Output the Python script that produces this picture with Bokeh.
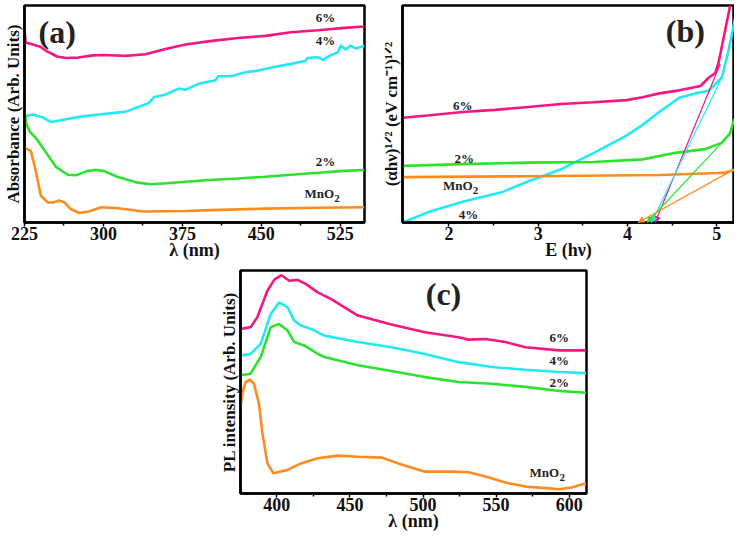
from bokeh.plotting import figure
from bokeh.models import Label, FixedTicker, Range1d, Arrow, NormalHead, Spacer
from bokeh.layouts import row, column
from bokeh.embed import file_html
from bokeh.resources import INLINE

FONT = "'Liberation Serif', serif"
PINK = "#F5167F"
CYAN = "#22E9F4"
GREEN = "#2CE22C"
ORANGE = "#FF8B1E"

# ---------------- (a) UV-Vis absorbance ----------------
a_ticks = [225, 300, 375, 450, 525]
a_minor = [262.5, 337.5, 412.5, 487.5]
a_x6 = [225, 226, 233, 240, 246, 256, 264, 276, 290, 300, 321, 340, 359, 378, 403, 428, 454, 478, 504, 529, 548]
a_y6 = [0.90, 0.83, 0.82, 0.81, 0.79, 0.765, 0.758, 0.76, 0.77, 0.772, 0.768, 0.775, 0.80, 0.82, 0.837, 0.85, 0.86, 0.877, 0.886, 0.897, 0.903]
a_x4 = [225.7, 232.6, 242, 250.5, 264.7, 279.8, 295.9, 321.4, 333.6, 343.1, 347.8, 359.1, 371.4, 378, 390.3, 406.4, 409.2, 421.5, 434.7, 447, 463.1, 478.2, 491.4, 494.2, 503.7, 508.4, 516, 522.6, 525.4, 530.1, 534.9, 539.6, 548]
a_y4 = [0.490, 0.498, 0.485, 0.463, 0.476, 0.489, 0.498, 0.511, 0.533, 0.551, 0.577, 0.590, 0.617, 0.612, 0.639, 0.656, 0.674, 0.674, 0.692, 0.700, 0.718, 0.731, 0.744, 0.758, 0.762, 0.749, 0.771, 0.784, 0.815, 0.797, 0.815, 0.802, 0.815]
a_x2 = [225, 226.5, 230, 236, 245.5, 255, 266, 274, 285, 293, 300, 313, 331, 345, 360, 400, 428, 454, 478, 504, 529, 548]
a_y2 = [0.520, 0.458, 0.419, 0.388, 0.322, 0.256, 0.220, 0.218, 0.238, 0.242, 0.238, 0.211, 0.185, 0.176, 0.181, 0.196, 0.203, 0.211, 0.220, 0.229, 0.238, 0.242]
a_x0 = [225, 231, 235.5, 240.5, 247, 252, 258, 263, 269, 277, 286, 298, 314, 338, 378, 403, 454, 504, 548]
a_y0 = [0.344, 0.330, 0.242, 0.123, 0.0925, 0.0925, 0.101, 0.0925, 0.062, 0.044, 0.051, 0.070, 0.066, 0.051, 0.053, 0.057, 0.064, 0.068, 0.070]

# ---------------- (b) Tauc plot ----------------
b_ticks = [2, 3, 4, 5]
b_minor = [2.5, 3.5, 4.5]
b_x6 = [1.485, 1.787, 2.154, 2.518, 2.89, 3.257, 3.62, 3.99, 4.17, 4.36, 4.58, 4.82, 4.91, 4.985, 5.02, 5.15, 5.17]
b_y6 = [0.483, 0.494, 0.509, 0.519, 0.532, 0.546, 0.554, 0.564, 0.577, 0.595, 0.609, 0.629, 0.667, 0.689, 0.734, 0.997, 1.05]
b_x4 = [1.485, 1.787, 2.154, 2.60, 2.89, 3.05, 3.257, 3.42, 3.62, 3.99, 4.17, 4.36, 4.58, 4.76, 4.91, 5.057, 5.13, 5.19, 5.21]
b_y4 = [0.0, 0.051, 0.096, 0.141, 0.190, 0.213, 0.245, 0.279, 0.32, 0.40, 0.45, 0.51, 0.575, 0.595, 0.607, 0.667, 0.787, 0.907, 0.95]
b_x2 = [1.485, 2.154, 2.89, 3.62, 4.17, 4.54, 4.87, 5.057, 5.15, 5.197]
b_y2 = [0.261, 0.269, 0.276, 0.279, 0.291, 0.321, 0.338, 0.367, 0.411, 0.477]
b_x0 = [1.485, 2.89, 4.36, 5.02, 5.10, 5.20]
b_y0 = [0.209, 0.213, 0.219, 0.228, 0.230, 0.243]
# linear extrapolations to the band gap (start on curve -> intercept on E axis)
tan_x0 = [5.04, 5.057, 5.057, 5.17]
tan_y0 = [0.73, 0.667, 0.367, 0.239]
tan_x1 = [4.31, 4.27, 4.22, 4.12]
tan_y1 = [0.0, 0.0, 0.0, 0.0]
tan_col = [PINK, CYAN, GREEN, ORANGE]

# ---------------- (c) PL spectra ----------------
c_ticks = [400, 450, 500, 550, 600]
c_minor = [425, 475, 525, 575]
c_x6 = [375.2, 382.1, 386.7, 393.6, 398.5, 403.2, 408.5, 414.2, 420, 428, 437.2, 455.5, 478.4, 501.3, 524.3, 531.2, 542.6, 556.4, 570.1, 593.1, 611.4]
c_y6 = [0.738, 0.746, 0.790, 0.909, 0.96, 0.979, 0.954, 0.958, 0.939, 0.902, 0.872, 0.798, 0.758, 0.723, 0.701, 0.690, 0.693, 0.679, 0.656, 0.642, 0.642]
c_x4 = [375.2, 382.1, 389, 395.9, 401.6, 407.4, 411.9, 416.5, 423.4, 432.5, 455.5, 478.4, 501.3, 524.3, 547.2, 570.1, 593.1, 611.4]
c_y4 = [0.619, 0.626, 0.671, 0.805, 0.857, 0.835, 0.775, 0.753, 0.738, 0.708, 0.679, 0.656, 0.626, 0.589, 0.567, 0.555, 0.545, 0.540]
c_x2 = [375.2, 382.1, 389, 395.9, 401.6, 407.4, 411.9, 418.8, 428, 432.5, 455.5, 478.4, 501.3, 524.3, 547.2, 570.1, 593.1, 611.4]
c_y2 = [0.530, 0.537, 0.612, 0.746, 0.760, 0.731, 0.679, 0.664, 0.626, 0.612, 0.575, 0.549, 0.522, 0.500, 0.492, 0.478, 0.460, 0.452]
c_x0 = [375.2, 376.4, 378.7, 381.6, 384.4, 387.8, 390.2, 393.6, 397.7, 407.4, 416.5, 428, 441.8, 455.5, 471.6, 483, 501.3, 519.7, 531.2, 542.6, 556.4, 570.1, 583.9, 593.1, 602.3, 611.4]
c_y0 = [0.388, 0.448, 0.5, 0.510, 0.492, 0.403, 0.269, 0.135, 0.091, 0.106, 0.135, 0.158, 0.170, 0.165, 0.161, 0.135, 0.098, 0.098, 0.095, 0.076, 0.049, 0.031, 0.024, 0.019, 0.028, 0.046]


def make_fig(width, height, xr, yr, ticks, minor, xlabel, ylabel, borders):
    p = figure(width=width, height=height, x_range=Range1d(*xr), y_range=Range1d(*yr),
               output_backend="svg", toolbar_location=None,
               min_border_left=borders[0], min_border_right=borders[1],
               min_border_top=borders[2], min_border_bottom=borders[3])
    p.grid.visible = False
    p.outline_line_color = "black"
    p.outline_line_width = 2.5
    p.background_fill_color = "white"
    p.border_fill_color = "white"
    xa = p.xaxis[0]
    xa.ticker = FixedTicker(ticks=ticks, minor_ticks=minor)
    xa.axis_label = xlabel
    xa.axis_line_color = "black"
    xa.axis_line_width = 2.5
    xa.major_tick_in = 0
    xa.major_tick_out = 4
    xa.minor_tick_in = 0
    xa.minor_tick_out = 3
    xa.major_tick_line_width = 1.5
    xa.minor_tick_line_width = 1.5
    xa.major_label_standoff = 0
    xa.axis_label_standoff = -3
    xa.major_label_text_font = FONT
    xa.major_label_text_font_style = "bold"
    xa.major_label_text_font_size = "18px"
    xa.major_label_text_color = "#111111"
    xa.axis_label_text_font = FONT
    xa.axis_label_text_font_style = "bold"
    xa.axis_label_text_font_size = "18px"
    xa.axis_label_text_color = "#111111"
    ya = p.yaxis[0]
    ya.ticker = FixedTicker(ticks=[])
    ya.axis_line_color = "black"
    ya.axis_line_width = 2.5
    ya.major_tick_line_color = None
    ya.minor_tick_line_color = None
    ya.major_label_text_font_size = "0px"
    ya.major_label_standoff = 0
    ya.axis_label = ylabel
    ya.axis_label_standoff = 2
    ya.axis_label_text_font = FONT
    ya.axis_label_text_font_style = "bold"
    ya.axis_label_text_font_size = "17px"
    ya.axis_label_text_color = "#111111"
    return p


def lab(p, x, y, text, size="13px", align="center", dx=0, dy=0):
    p.add_layout(Label(x=x, y=y, text=text, text_font=FONT, text_font_style="bold",
                       text_font_size=size, text_align=align, text_baseline="middle",
                       text_color="#222222", x_offset=dx, y_offset=dy))


def mno2(p, x, y):
    lab(p, x, y, "MnO")
    lab(p, x, y, "2", size="11px", align="left", dx=15, dy=-5)


LW = 2.6

# (a)
pa = make_fig(378, 262, (225, 548), (0, 1), a_ticks, a_minor, "λ (nm)",
              "Absorbance (Arb. Units)", (17, 14, 1, 30))
pa.line(a_x6, a_y6, color=PINK, line_width=LW)
pa.line(a_x4, a_y4, color=CYAN, line_width=LW)
pa.line(a_x2, a_y2, color=GREEN, line_width=LW)
pa.line(a_x0, a_y0, color=ORANGE, line_width=LW)
lab(pa, 256, 0.877, "(a)", size="32px")
lab(pa, 511, 0.943, "6%")
lab(pa, 511, 0.837, "4%")
lab(pa, 511, 0.282, "2%")
mno2(pa, 505, 0.132)

# (b)
pb = make_fig(356, 262, (1.48, 5.2), (0, 1), b_ticks, b_minor, "E (hν)",
              "(αhν)¹ᐟ² (eV cm⁻¹)¹ᐟ²", (21, 0, 5, 30))
pb.line(b_x6, b_y6, color=PINK, line_width=LW)
pb.line(b_x4, b_y4, color=CYAN, line_width=LW)
pb.line(b_x2, b_y2, color=GREEN, line_width=LW)
pb.line(b_x0, b_y0, color=ORANGE, line_width=LW)
for i in range(len(tan_x0)):
    pb.add_layout(Arrow(x_start=tan_x0[i], y_start=tan_y0[i], x_end=tan_x1[i], y_end=tan_y1[i],
                        line_color=tan_col[i], line_width=1.2,
                        end=NormalHead(size=6, fill_color=tan_col[i], line_color=tan_col[i])))
lab(pb, 4.65, 0.884, "(b)", size="32px")
lab(pb, 2.154, 0.541, "6%")
lab(pb, 2.173, 0.296, "2%")
mno2(pb, 2.10, 0.171)
lab(pb, 2.22, 0.036, "4%")

# (c)
pc = make_fig(372, 271, (375.2, 611.8), (0, 1), c_ticks, c_minor, "λ (nm)",
              "PL intensity (Arb. Units)", (22, 2, 8, 30))
pc.line(c_x6, c_y6, color=PINK, line_width=LW)
pc.line(c_x4, c_y4, color=CYAN, line_width=LW)
pc.line(c_x2, c_y2, color=GREEN, line_width=LW)
pc.line(c_x0, c_y0, color=ORANGE, line_width=LW)
lab(pc, 514, 0.894, "(c)", size="32px")
lab(pc, 593.1, 0.701, "6%")
lab(pc, 593.1, 0.597, "4%")
lab(pc, 593.1, 0.5, "2%")
mno2(pc, 583, 0.094)

layout = column(row(pa, pb), row(Spacer(width=216, height=271), pc))

html = file_html(layout, INLINE, "Absorbance, Tauc and PL spectra")
open("out.html", "w").write(html)
